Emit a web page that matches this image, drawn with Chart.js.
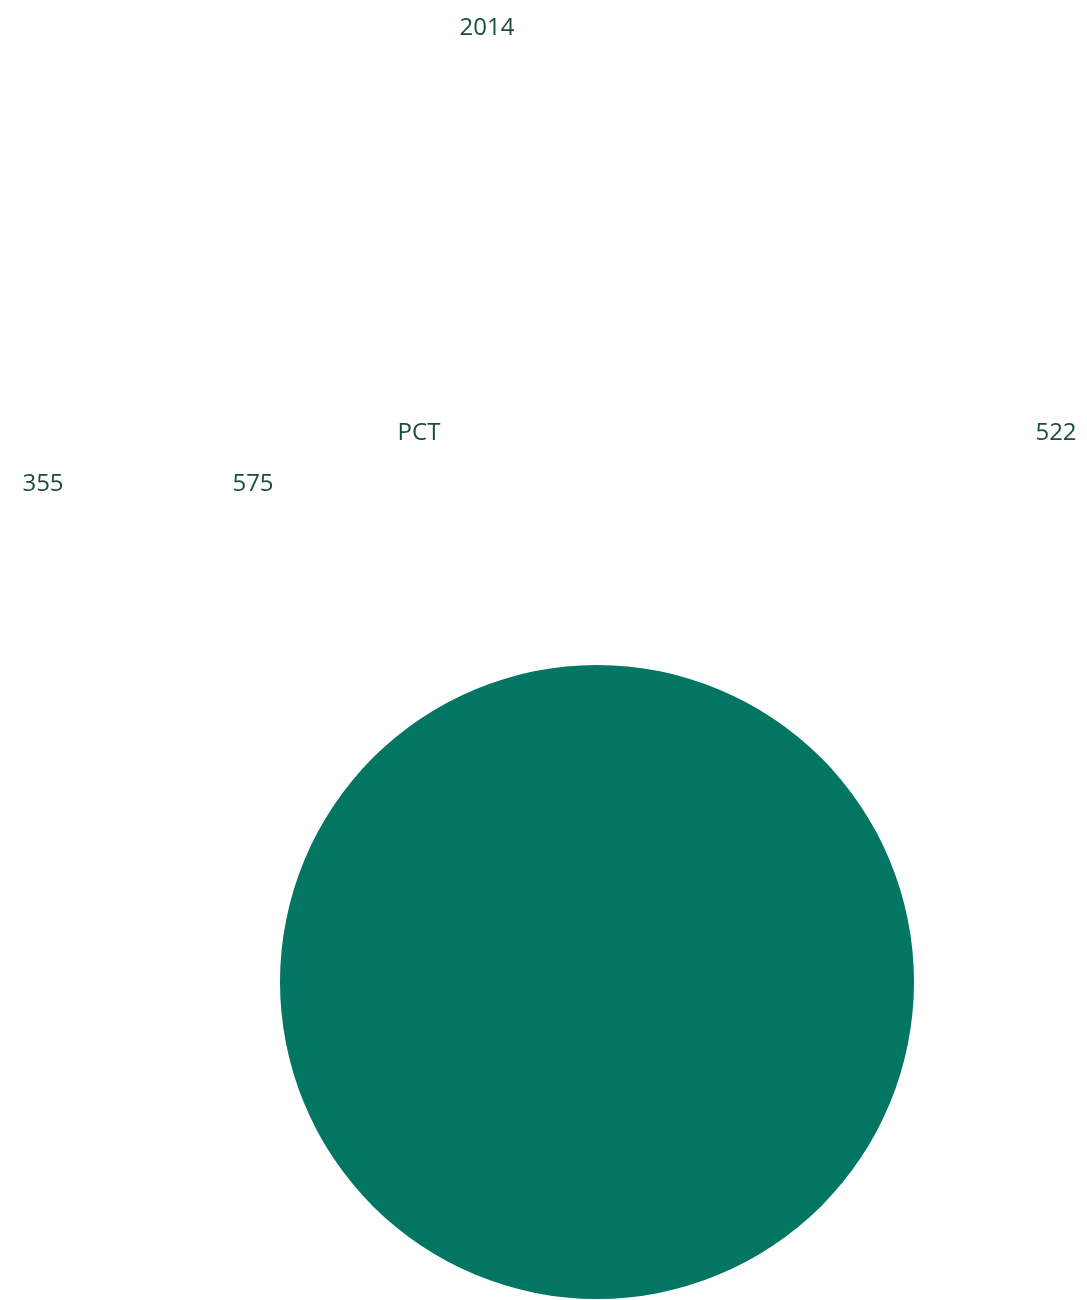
<!DOCTYPE html>
<html>
<head>
<meta charset="utf-8">
<script src="https://cdn.jsdelivr.net/npm/chart.js@4/dist/chart.umd.min.js"></script>
<style>
html,body{margin:0;padding:0;background:#fff;}
canvas{display:block;}
</style>
</head>
<body>
<canvas id="c" width="1087" height="1300"></canvas>
<script>
const title = "2014";
const categories = ["PCT"];
const seriesValues = [522];
const otherValues = [355, 575];

const textColor = "#1c4d3c";
const sliceColor = "#027563";
const fontFamily = "'Open Sans', sans-serif";

const textPlugin = {
  id: 'texts',
  afterDraw(chart) {
    const ctx = chart.ctx;
    ctx.save();
    ctx.fillStyle = textColor;
    ctx.font = "24px " + fontFamily;
    ctx.textAlign = 'center';
    ctx.textBaseline = 'middle';
    ctx.fillText(title, 487, 28);
    ctx.fillText(categories[0], 419, 433);
    ctx.fillText(String(seriesValues[0]), 1056, 433);
    ctx.fillText(String(otherValues[0]), 43, 484);
    ctx.fillText(String(otherValues[1]), 253, 484);
    ctx.restore();
  }
};

new Chart(document.getElementById('c'), {
  type: 'pie',
  data: {
    labels: categories,
    datasets: [{
      data: seriesValues,
      backgroundColor: [sliceColor],
      borderWidth: 0
    }]
  },
  options: {
    responsive: false,
    animation: false,
    devicePixelRatio: 1,
    layout: { padding: { top: 665, bottom: 1, left: 280, right: 173 } },
    plugins: { legend: { display: false }, title: { display: false }, tooltip: { enabled: false } }
  },
  plugins: [textPlugin]
});
</script>
</body>
</html>
